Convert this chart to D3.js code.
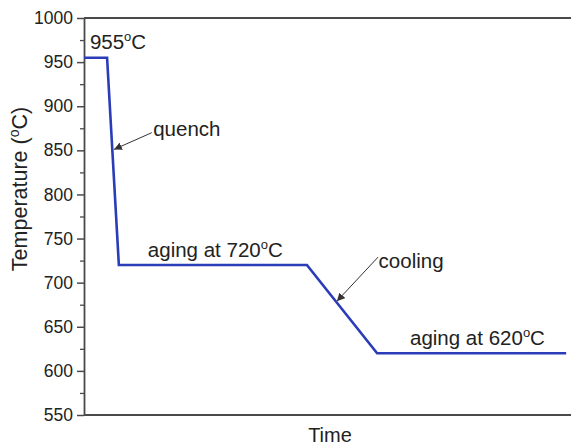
<!DOCTYPE html>
<html>
<head>
<meta charset="utf-8">
<script src="https://cdn.jsdelivr.net/npm/d3@7"></script>
<style>
  body { margin: 0; background: #fff; }
  svg { display: block; font-family: "Liberation Sans", Arial, sans-serif; }
</style>
</head>
<body>
<div id="chart"></div>
<script>
// data (time in arbitrary units)
const timeVals = [0, 4.7, 7.1, 45.4, 59.7, 98.2];
const tempVals = [955, 955, 720, 720, 620, 620];
const yTicks = [550, 600, 650, 700, 750, 800, 850, 900, 950, 1000];
const labels = [
  { text: "955", deg: true, t: 1.2, v: 965 },
  { text: "quench", deg: false, t: 14.1, v: 866 },
  { text: "aging at 720", deg: true, t: 13, v: 729 },
  { text: "cooling", deg: false, t: 60, v: 716.5 },
  { text: "aging at 620", deg: true, t: 66.4, v: 629 }
];
const arrows = [
  { t0: 13.8, v0: 870, t1: 6.1, v1: 851 },
  { t0: 59.9, v0: 729, t1: 51.5, v1: 679 }
];

const width = 571, height = 445;
const margin = { left: 84, right: -4, top: 18, bottom: 30 };

const svg = d3.select("#chart").append("svg")
  .attr("width", width)
  .attr("height", height);

const X = d3.scaleLinear().domain([0, 100]).range([margin.left, width - margin.right]);
const Y = d3.scaleLinear().domain([550, 1000]).range([height - margin.bottom, margin.top]);

const axisColor = "#4a4a4a";

// left axis with minor ticks
const minor = d3.range(575, 1000, 50);
svg.append("g")
  .attr("transform", "translate(" + X(0) + ",0)")
  .call(d3.axisLeft(Y).tickValues(minor).tickSize(4).tickFormat(""))
  .call(g => g.select(".domain").remove())
  .call(g => g.selectAll("line").attr("stroke", axisColor).attr("stroke-width", 1.3));

svg.append("g")
  .attr("transform", "translate(" + X(0) + ",0)")
  .call(d3.axisLeft(Y).tickValues(yTicks).tickSize(7).tickSizeOuter(0).tickPadding(4)
    .tickFormat(d3.format("d")))
  .call(g => g.select(".domain").attr("stroke", axisColor).attr("stroke-width", 1.8))
  .call(g => g.selectAll("line").attr("stroke", axisColor).attr("stroke-width", 1.5))
  .call(g => g.selectAll("text").attr("font-size", 17.5).attr("fill", "#222")
    .attr("font-family", "'Liberation Sans', Arial, sans-serif"));

// right axis, ticks inward
svg.append("g")
  .attr("transform", "translate(" + X(100) + ",0)")
  .call(d3.axisLeft(Y).tickValues(yTicks).tickSize(-7).tickFormat(""))
  .call(g => g.select(".domain").remove())
  .call(g => g.selectAll("line").attr("stroke", axisColor).attr("stroke-width", 1.5));

// top and bottom frame lines
svg.append("line")
  .attr("x1", X(0)).attr("x2", X(100)).attr("y1", Y(1000)).attr("y2", Y(1000))
  .attr("stroke", axisColor).attr("stroke-width", 1.8);
svg.append("line")
  .attr("x1", X(0)).attr("x2", X(100)).attr("y1", Y(550)).attr("y2", Y(550))
  .attr("stroke", axisColor).attr("stroke-width", 1.8);

// axis titles
svg.append("text")
  .attr("transform", "translate(27,189) rotate(-90)")
  .attr("text-anchor", "middle")
  .attr("font-size", 21.5).attr("fill", "#222")
  .call(t => {
    t.append("tspan").text("Temperature (");
    t.append("tspan").attr("font-size", 14).attr("dy", -8).text("o");
    t.append("tspan").attr("dy", 8).text("C)");
  });

svg.append("text")
  .attr("x", 330).attr("y", 442)
  .attr("text-anchor", "middle")
  .attr("font-size", 20).attr("fill", "#222")
  .text("Time");

// the temperature profile
const line = d3.line()
  .x((d, i) => X(timeVals[i]))
  .y(d => Y(d));

svg.append("path")
  .datum(tempVals)
  .attr("d", line)
  .attr("fill", "none")
  .attr("stroke", "#2a3cb8")
  .attr("stroke-width", 2.6)
  .attr("stroke-linejoin", "miter");

// annotations
svg.append("defs").append("marker")
  .attr("id", "arr")
  .attr("viewBox", "0 0 10 10")
  .attr("refX", 10).attr("refY", 5)
  .attr("markerWidth", 8).attr("markerHeight", 8)
  .attr("markerUnits", "userSpaceOnUse")
  .attr("orient", "auto")
  .append("path")
  .attr("d", "M0,0 L10,5 L0,10 Z")
  .attr("fill", "#333");

svg.selectAll(".arrow")
  .data(arrows)
  .join("line")
  .attr("class", "arrow")
  .attr("x1", d => X(d.t0)).attr("y1", d => Y(d.v0))
  .attr("x2", d => X(d.t1)).attr("y2", d => Y(d.v1))
  .attr("stroke", "#333").attr("stroke-width", 1)
  .attr("marker-end", "url(#arr)");

svg.selectAll(".lab")
  .data(labels)
  .join("text")
  .attr("class", "lab")
  .attr("x", d => X(d.t))
  .attr("y", d => Y(d.v))
  .attr("font-size", 20.5).attr("fill", "#222")
  .each(function (d) {
    const t = d3.select(this);
    t.append("tspan").text(d.text);
    if (d.deg) {
      t.append("tspan").attr("font-size", 13).attr("dy", -8).text("o");
      t.append("tspan").attr("dy", 8).text("C");
    }
  });
</script>
</body>
</html>
